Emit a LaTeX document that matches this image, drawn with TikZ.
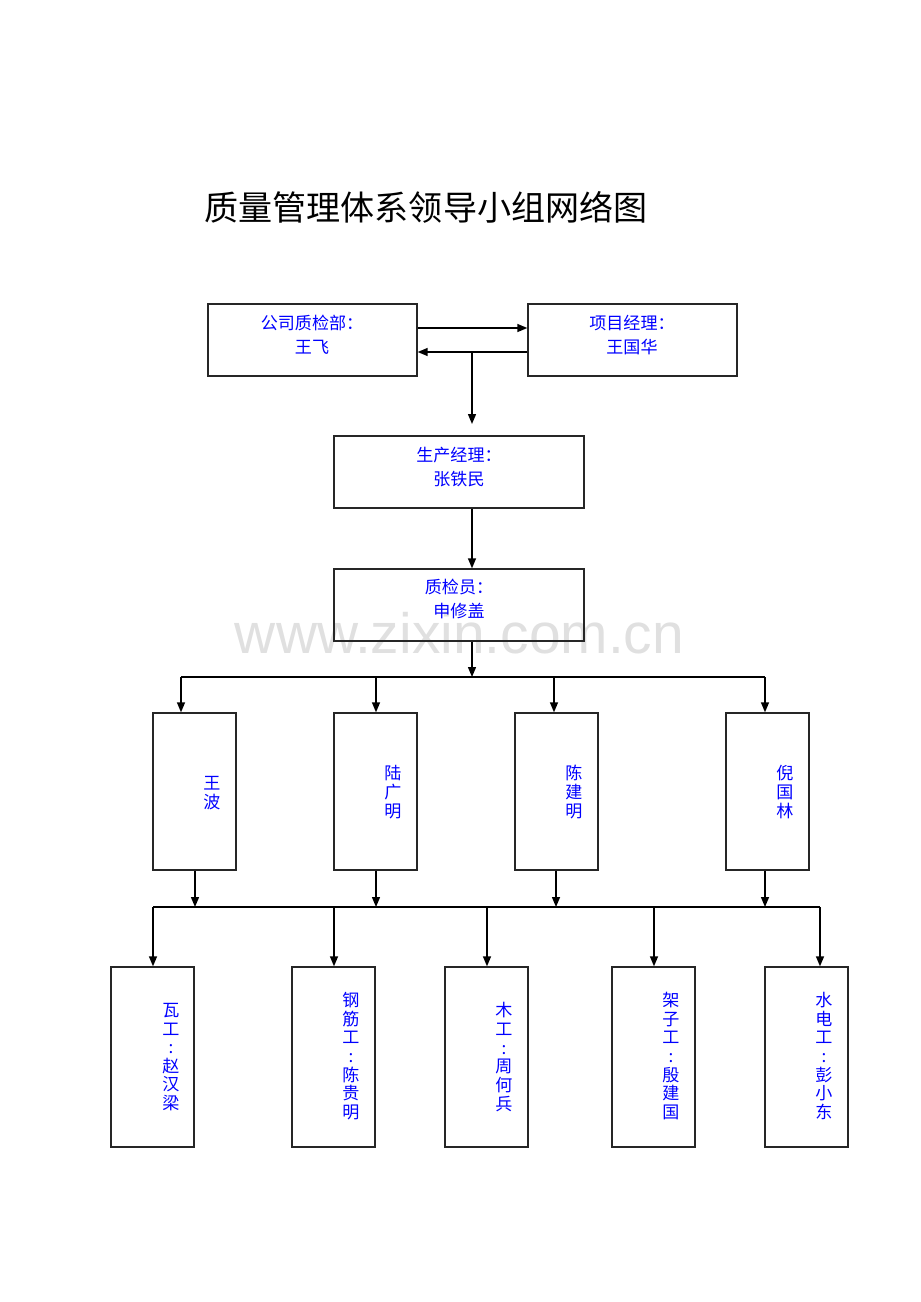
\documentclass[tikz,border=0pt]{standalone}
\usepackage{fontspec}
\setmainfont{Noto Sans CJK SC}
\newfontfamily\wmfont{Liberation Sans}
\usetikzlibrary{arrows.meta}

\begin{document}
\begin{tikzpicture}[x=0.02cm,y=-0.02cm,
  box/.style={draw=black!85, line width=0.8pt, inner sep=0pt},
  wide/.style={box, minimum width=4.18cm, minimum height=1.44cm},
  mid/.style={box, minimum width=5cm, minimum height=1.44cm},
  col/.style={box, minimum width=1.66cm, minimum height=3.14cm},
  tall/.style={box, minimum width=1.66cm, minimum height=3.6cm},
  txt/.style={text=blue, font=\fontsize{9.7}{13.6}\selectfont, align=center, inner sep=0pt},
  vtxt/.style={text=blue, font=\fontsize{9.7}{10.6}\selectfont, align=center, inner sep=0pt},
  line/.style={draw, line width=0.8pt},
  arr/.style={line, -{Triangle[length=2mm,width=1.6mm]}}]
\path[use as bounding box] (0,0) rectangle (920,1302);
\node[text=black!12, font=\wmfont\fontsize{32.4}{34}\selectfont, anchor=base] (wm) at (459.5,653) {www.zixin.com.cn};
\node[font=\fontsize{19.4}{22}\selectfont] (title) at (426,207) {质量管理体系领导小组网络图};

\node[wide] (qc) at (312.5,340) {};
\node[wide] (pm) at (632.5,340) {};
\node[mid] (prod) at (459,472) {};
\node[mid] (insp) at (459,605) {};
\node[txt] (qct) at (312,335) {公司质检部：\\王飞};
\node[txt] (pmt) at (632,335) {项目经理：\\王国华};
\node[txt] (prodt) at (459,467) {生产经理：\\张铁民};
\node[txt] (inspt) at (459,599) {质检员：\\申修盖};

\node[col] (w1) at (194.5,791.5) {};
\node[col] (w2) at (375.5,791.5) {};
\node[col] (w3) at (556.5,791.5) {};
\node[col] (w4) at (767.5,791.5) {};
\node[vtxt] (w1t) at (212,793) {王\\波};
\node[vtxt] (w2t) at (393,792) {陆\\广\\明};
\node[vtxt] (w3t) at (574,792) {陈\\建\\明};
\node[vtxt] (w4t) at (785,792) {倪\\国\\林};

\node[tall] (t1) at (152.5,1057) {};
\node[tall] (t2) at (333.5,1057) {};
\node[tall] (t3) at (486.5,1057) {};
\node[tall] (t4) at (653.5,1057) {};
\node[tall] (t5) at (806.5,1057) {};
\node[vtxt] (t1t) at (171,1057) {瓦\\工\\:\\赵\\汉\\梁};
\node[vtxt] (t2t) at (351,1056) {钢\\筋\\工\\:\\陈\\贵\\明};
\node[vtxt] (t3t) at (504,1057) {木\\工\\:\\周\\何\\兵};
\node[vtxt] (t4t) at (671,1056) {架\\子\\工\\:\\殷\\建\\国};
\node[vtxt] (t5t) at (824,1056) {水\\电\\工\\:\\彭\\小\\东};

\coordinate (j0) at (472,352);
\coordinate (j1) at (472,424);
\coordinate (h0) at (472,677);
\coordinate (h1) at (181,677);
\coordinate (h2) at (376,677);
\coordinate (h3) at (554,677);
\coordinate (h4) at (765,677);
\coordinate (g1) at (195,907);
\coordinate (g2) at (376,907);
\coordinate (g3) at (556,907);
\coordinate (g4) at (765,907);
\coordinate (k1) at (153,907);
\coordinate (k2) at (334,907);
\coordinate (k3) at (487,907);
\coordinate (k4) at (654,907);
\coordinate (k5) at (820,907);

\path[arr] ([yshift=0.24cm]qc.east) -- ([yshift=0.24cm]pm.west);
\path[arr] ([yshift=-0.24cm]pm.west) -- ([yshift=-0.24cm]qc.east);
\path[arr] (j0) -- (j1);
\path[arr] (prod.south -| j0) -- (insp.north -| j0);
\path[arr] (insp.south -| h0) -- (h0);
\path[line] (h1) -- (h4);
\path[arr] (h1) -- (h1 |- w1.north);
\path[arr] (h2) -- (h2 |- w2.north);
\path[arr] (h3) -- (h3 |- w3.north);
\path[arr] (h4) -- (h4 |- w4.north);
\path[arr] (w1.south -| g1) -- (g1);
\path[arr] (w2.south -| g2) -- (g2);
\path[arr] (w3.south -| g3) -- (g3);
\path[arr] (w4.south -| g4) -- (g4);
\path[line] (k1) -- (k5);
\path[arr] (k1) -- (k1 |- t1.north);
\path[arr] (k2) -- (k2 |- t2.north);
\path[arr] (k3) -- (k3 |- t3.north);
\path[arr] (k4) -- (k4 |- t4.north);
\path[arr] (k5) -- (k5 |- t5.north);
\end{tikzpicture}
\end{document}
